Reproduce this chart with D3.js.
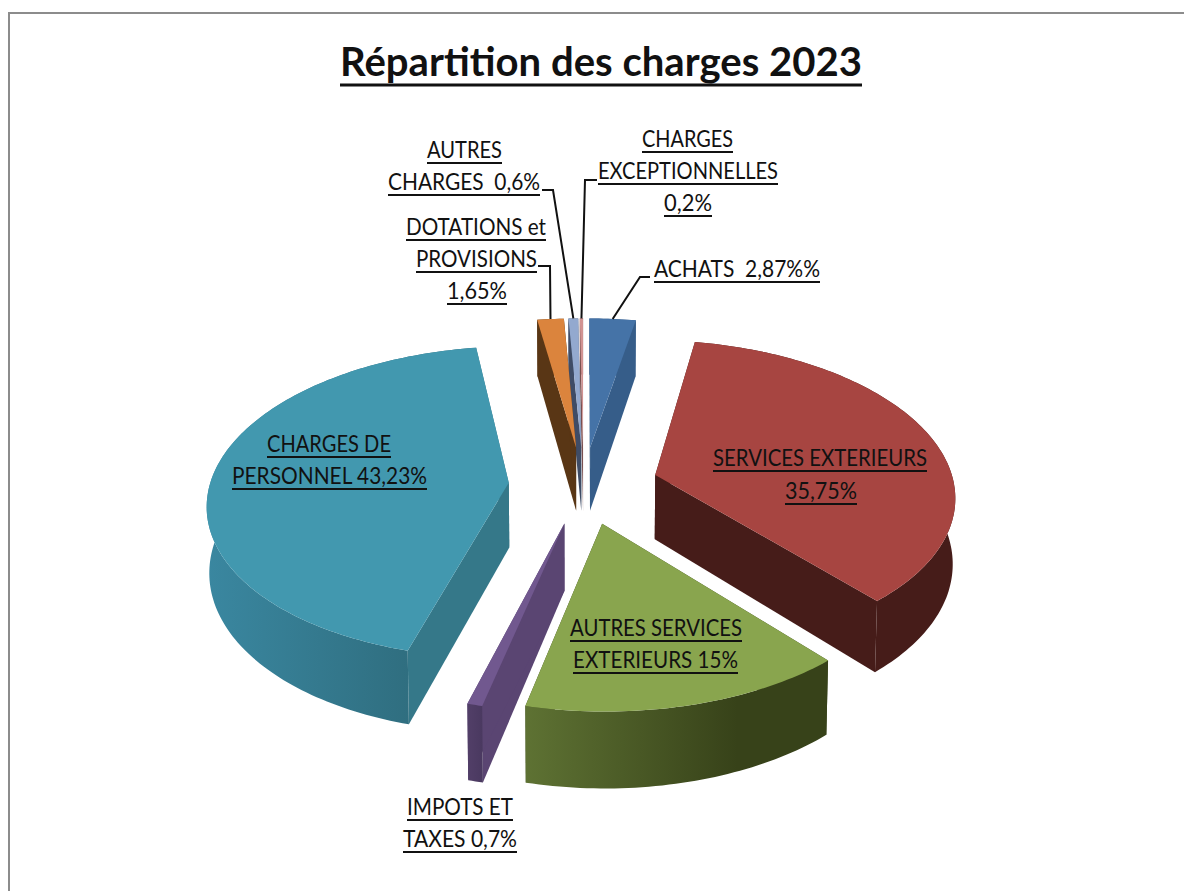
<!DOCTYPE html>
<html>
<head>
<meta charset="utf-8">
<script src="https://cdn.jsdelivr.net/npm/d3@7"></script>
<style>
  html, body { margin: 0; padding: 0; background: #fff; }
  svg { display: block; }
  text { font-family: Lato, "Open Sans", sans-serif; fill: #111; white-space: pre; }
</style>
</head>
<body>
<svg id="chart"></svg>
<script>
const categories = ["ACHATS", "SERVICES EXTERIEURS", "AUTRES SERVICES EXTERIEURS", "IMPOTS ET TAXES",
  "CHARGES DE PERSONNEL", "DOTATIONS et PROVISIONS", "AUTRES CHARGES", "CHARGES EXCEPTIONNELLES"];
const values = [2.87, 35.75, 15, 0.7, 43.23, 1.65, 0.6, 0.2];

const topColors = ["#4573a7", "#a74541", "#89a54e", "#71588f", "#4298af", "#db843d", "#93a9cf", "#d19392"];
const sideColors = ["#365d89", "#461c19", "#3a451d", "#5a4572", "#357889", "#593615", "#3f4c66", "#7a5050"];
const rimFrom = ["#365d89", "#461c19", "#5e7233", "#523f68", "#3a87a0", "#593615", "#3f4c66", "#7a5050"];
const rimTo = ["#365d89", "#461c19", "#374219", "#4a3960", "#2c6675", "#593615", "#3f4c66", "#7a5050"];
const rimStop = [1, 1, 0.7, 1, 1, 1, 1, 1];

// one entry per text line: text, left, right, baseline
const labelLines = [
  ["CHARGES", 642, 733, 147], ["EXCEPTIONNELLES", 598, 778, 179], ["0,2%", 664, 712, 211],
  ["AUTRES", 427, 502, 158], ["CHARGES  0,6%", 388, 540, 190],
  ["DOTATIONS et", 406, 546, 235], ["PROVISIONS", 416, 537, 267], ["1,65%", 447, 507, 299],
  ["ACHATS  2,87%%", 654, 820, 277],
  ["SERVICES EXTERIEURS", 713, 927, 466], ["35,75%", 785, 857, 499],
  ["AUTRES SERVICES", 570, 742, 636], ["EXTERIEURS 15%", 573, 738, 668],
  ["IMPOTS ET", 407, 513, 815], ["TAXES 0,7%", 403, 517, 847],
  ["CHARGES DE", 267, 391, 452], ["PERSONNEL 43,23%", 232, 427, 484]
];

// leader lines: slice index, then the bends starting at the label
const leaders = [
  [0, [[650, 277], [640, 277]]],
  [5, [[538, 266], [550, 266]]],
  [6, [[542, 190], [553, 190]]],
  [7, [[597, 180], [585, 180]]]
];

const width = 1184, height = 891;
const cx = 583.5, cy = 485, radius = 299, tilt = 0.515, depth = 65, explode = 75;
const camera = 2400, bottomShrink = 0.993;

const svg = d3.select("#chart").attr("width", width).attr("height", height);
const defs = svg.append("defs");

svg.append("rect")
  .attr("x", 9).attr("y", 13).attr("width", width + 20).attr("height", height + 20)
  .attr("fill", "#fff").attr("stroke", "#8c8c8c").attr("stroke-width", 2);

const pie = d3.pie().sort(null).startAngle(0).endAngle(2 * Math.PI);
const slices = pie(values).map((d, i) => {
  const mid = (d.startAngle + d.endAngle) / 2;
  return { ...d, i, mid, ox: explode * Math.sin(mid), oz: -explode * Math.cos(mid) };
});

function project(x, z, h) {
  const s = camera / (camera - z);
  const b = h ? bottomShrink : 1;
  return [cx + x * s * b, cy + (z * tilt + h) * s];
}

const rimPoint = (d, a, h) => project(d.ox + radius * Math.sin(a), d.oz - radius * Math.cos(a), h);
const apexPoint = (d, h) => project(d.ox, d.oz, h);
const rim = (d, h) => {
  const n = Math.max(4, Math.ceil((d.endAngle - d.startAngle) / 0.02));
  return d3.range(n + 1).map(k => rimPoint(d, d.startAngle + (d.endAngle - d.startAngle) * k / n, h));
};
const line = d3.line();
const closed = pts => line(pts) + "Z";

// back slices first so the front ones sit on top
const order = slices.slice().sort((a, b) => a.oz - b.oz);

const groups = svg.selectAll("g.slice").data(order).enter().append("g").attr("class", "slice");

groups.each(function(d) {
  const g = d3.select(this);
  const apexTop = apexPoint(d, 0), apexBottom = apexPoint(d, depth);
  const rimTop = rim(d, 0), rimBottom = rim(d, depth);

  [d.startAngle, d.endAngle].forEach(a => {
    g.append("path")
      .attr("d", closed([apexTop, rimPoint(d, a, 0), rimPoint(d, a, depth), apexBottom]))
      .attr("fill", sideColors[d.i]);
  });

  const xs = d3.extent(rimTop, p => p[0]);
  const grad = defs.append("linearGradient").attr("id", "rim" + d.i)
    .attr("gradientUnits", "userSpaceOnUse")
    .attr("x1", xs[0]).attr("x2", xs[1]).attr("y1", 0).attr("y2", 0);
  grad.append("stop").attr("offset", 0).attr("stop-color", rimFrom[d.i]);
  grad.append("stop").attr("offset", rimStop[d.i]).attr("stop-color", rimTo[d.i]);

  g.append("path")
    .attr("d", closed(rimTop.concat(rimBottom.slice().reverse())))
    .attr("fill", `url(#rim${d.i})`);

  g.append("path")
    .attr("d", closed([apexTop].concat(rimTop)))
    .attr("fill", topColors[d.i]);
});

svg.selectAll("path.leader").data(leaders).enter().append("path")
  .attr("class", "leader")
  .attr("fill", "none").attr("stroke", "#111").attr("stroke-width", 2)
  .attr("d", ([i, bends]) => line(bends.concat([rimPoint(slices[i], slices[i].mid, 0)])));

function fitted(sel, fontSize, weight) {
  sel.attr("font-size", fontSize).attr("font-weight", weight)
    .attr("lengthAdjust", "spacingAndGlyphs");
}

svg.selectAll("text.label").data(labelLines).enter().append("text")
  .attr("class", "label")
  .attr("x", d => d[1]).attr("y", d => d[3])
  .attr("textLength", d => d[2] - d[1])
  .text(d => d[0])
  .call(fitted, 23, 400);

svg.selectAll("line.under").data(labelLines).enter().append("line")
  .attr("class", "under")
  .attr("x1", d => d[1]).attr("x2", d => d[2])
  .attr("y1", d => d[3] + 5).attr("y2", d => d[3] + 5)
  .attr("stroke", "#111").attr("stroke-width", 2);

const titleBox = [340, 862, 76];
svg.append("text")
  .attr("x", titleBox[0]).attr("y", titleBox[2])
  .attr("textLength", titleBox[1] - titleBox[0])
  .text("Répartition des charges 2023")
  .call(fitted, 40, 700);
svg.append("line")
  .attr("x1", titleBox[0]).attr("x2", titleBox[1])
  .attr("y1", titleBox[2] + 9).attr("y2", titleBox[2] + 9)
  .attr("stroke", "#111").attr("stroke-width", 3);
</script>
</body>
</html>
